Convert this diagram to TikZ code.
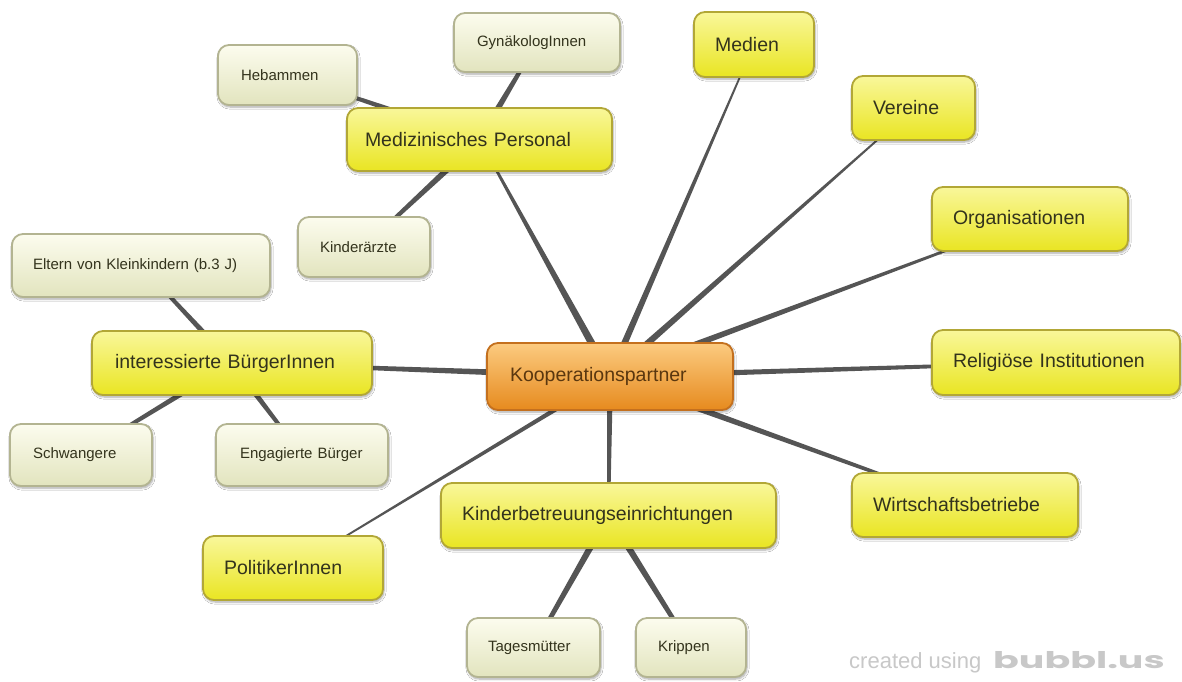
\documentclass[tikz,border=0pt]{standalone}
\usepackage{fontspec}
\setmainfont{Liberation Sans}
\newfontfamily\bubfont{Poppins}
\usetikzlibrary{calc,backgrounds,shadows.blur}
\definecolor{ytop}{HTML}{F9F79A}
\definecolor{ymid}{HTML}{F3EF3E}
\definecolor{ybot}{HTML}{E9E522}
\definecolor{yedge}{HTML}{B2A736}
\definecolor{ctop}{HTML}{FCFCEE}
\definecolor{cmid}{HTML}{F4F4DA}
\definecolor{cbot}{HTML}{E2E4BE}
\definecolor{cedge}{HTML}{B3B491}
\definecolor{otop}{HTML}{FCCB80}
\definecolor{omid}{HTML}{F3A848}
\definecolor{obot}{HTML}{E68A1E}
\definecolor{oedge}{HTML}{C4701E}
\definecolor{linkc}{HTML}{555555}
\definecolor{txt}{HTML}{33331C}
\definecolor{wmc}{HTML}{C8C8C8}
\tikzset{
  bubble/.style={draw, line width=1.8pt, rounded corners=11pt, anchor=north west,
    align=left, outer sep=0pt, inner ysep=0pt, text=txt,
    blur shadow={shadow xshift=1pt, shadow yshift=-2pt, shadow opacity=35, shadow blur steps=6}},
  mainb/.style={bubble, draw=yedge, top color=ytop, middle color=ymid, bottom color=ybot, font=\fontsize{19.5}{22}\selectfont},
  childb/.style={bubble, draw=cedge, top color=ctop, middle color=cmid, bottom color=cbot, font=\fontsize{15}{17}\selectfont},
  rootb/.style={bubble, draw=oedge, top color=otop, middle color=omid, bottom color=obot, text={rgb,255:red,90;green,55;blue,15}, font=\fontsize{19.5}{22}\selectfont},
}
% \bub{style}{name}{x1}{y1}{x2}{y2}{pad}{text}
\newcommand\bub[8]{%
  \pgfmathsetmacro\bw{#5-#3}%
  \pgfmathsetmacro\bh{#6-#4}%
  \pgfmathsetmacro\tw{#5-#3-2*#7}%
  \node[#1, minimum width=\bw pt, minimum height=\bh pt, inner xsep=#7pt, text width=\tw pt] (#2) at (#3,#4) {#8};}
% \conn{a}{b}{halfwidth at a}{halfwidth at b}
\newcommand\conn[4]{%
  \fill[linkc] ($(#1)!#3!90:(#2)$) -- ($(#2)!#4!-90:(#1)$) -- ($(#2)!#4!90:(#1)$) -- ($(#1)!#3!-90:(#2)$) -- cycle;}
\begin{document}
\begin{tikzpicture}[x=1pt,y=-1pt]
\useasboundingbox (0,0) rectangle (1182,681);
\bub{rootb}{koop}{487}{343}{733}{410}{23}{Kooperationspartner}
\bub{mainb}{med}{347}{108}{612}{171}{18}{Medizinisches Personal}
\bub{childb}{heb}{218}{45}{357}{105}{23}{Hebammen}
\bub{childb}{gyn}{454}{13}{620}{72}{23}{GynäkologInnen}
\bub{childb}{kia}{298}{217}{430}{277}{22}{Kinderärzte}
\bub{mainb}{medien}{694}{12}{814}{77}{21}{Medien}
\bub{mainb}{ver}{852}{76}{975}{140}{21}{Vereine}
\bub{mainb}{org}{932}{187}{1128}{251}{21}{Organisationen}
\bub{mainb}{rel}{932}{330}{1180}{395}{21}{Religiöse Institutionen}
\bub{mainb}{wirt}{852}{473}{1078}{537}{21}{Wirtschaftsbetriebe}
\bub{mainb}{kib}{441}{483}{776}{548}{21}{Kinderbetreuungseinrichtungen}
\bub{childb}{tag}{467}{618}{600}{677}{21}{Tagesmütter}
\bub{childb}{kri}{636}{618}{746}{677}{22}{Krippen}
\bub{mainb}{pol}{203}{536}{383}{600}{21}{PolitikerInnen}
\bub{mainb}{int}{92}{331}{372}{395}{23}{interessierte BürgerInnen}
\bub{childb}{elt}{12}{234}{270}{297}{21}{Eltern von Kleinkindern (b.3 J)}
\bub{childb}{schw}{10}{424}{152}{486}{23}{Schwangere}
\bub{childb}{eng}{216}{424}{388}{486}{24}{Engagierte Bürger}
\node[anchor=base west, text=wmc, font=\fontsize{22}{24}\selectfont, inner sep=0pt] (wm1) at (849,668) {created using};
\node[anchor=base west, text=wmc, font=\bubfont\bfseries\fontsize{23}{26}\selectfont, inner sep=0pt] (wm2) at (993,668) {\scalebox{1.65}[1]{bubbl.us}};
\begin{scope}[on background layer]
\fill[white] (0,0) rectangle (1182,681);
\conn{koop}{med}{4pt}{1pt}
\conn{koop}{medien}{3.5pt}{0.6pt}
\conn{koop}{ver}{3.5pt}{0.6pt}
\conn{koop}{org}{3.5pt}{0.8pt}
\conn{koop}{rel}{3pt}{1.5pt}
\conn{koop}{wirt}{3.5pt}{1.2pt}
\conn{koop}{kib}{3pt}{1.5pt}
\conn{koop}{pol}{2.5pt}{0.6pt}
\conn{koop}{int}{3.5pt}{1.5pt}
\conn{med}{heb}{3pt}{1.5pt}
\conn{med}{gyn}{3.5pt}{1.5pt}
\conn{med}{kia}{3.5pt}{1.5pt}
\conn{int}{elt}{3pt}{1.5pt}
\conn{int}{schw}{3pt}{1.5pt}
\conn{int}{eng}{3pt}{1.5pt}
\conn{kib}{tag}{3.5pt}{2pt}
\conn{kib}{kri}{3.5pt}{2pt}
\end{scope}
\end{tikzpicture}
\end{document}
